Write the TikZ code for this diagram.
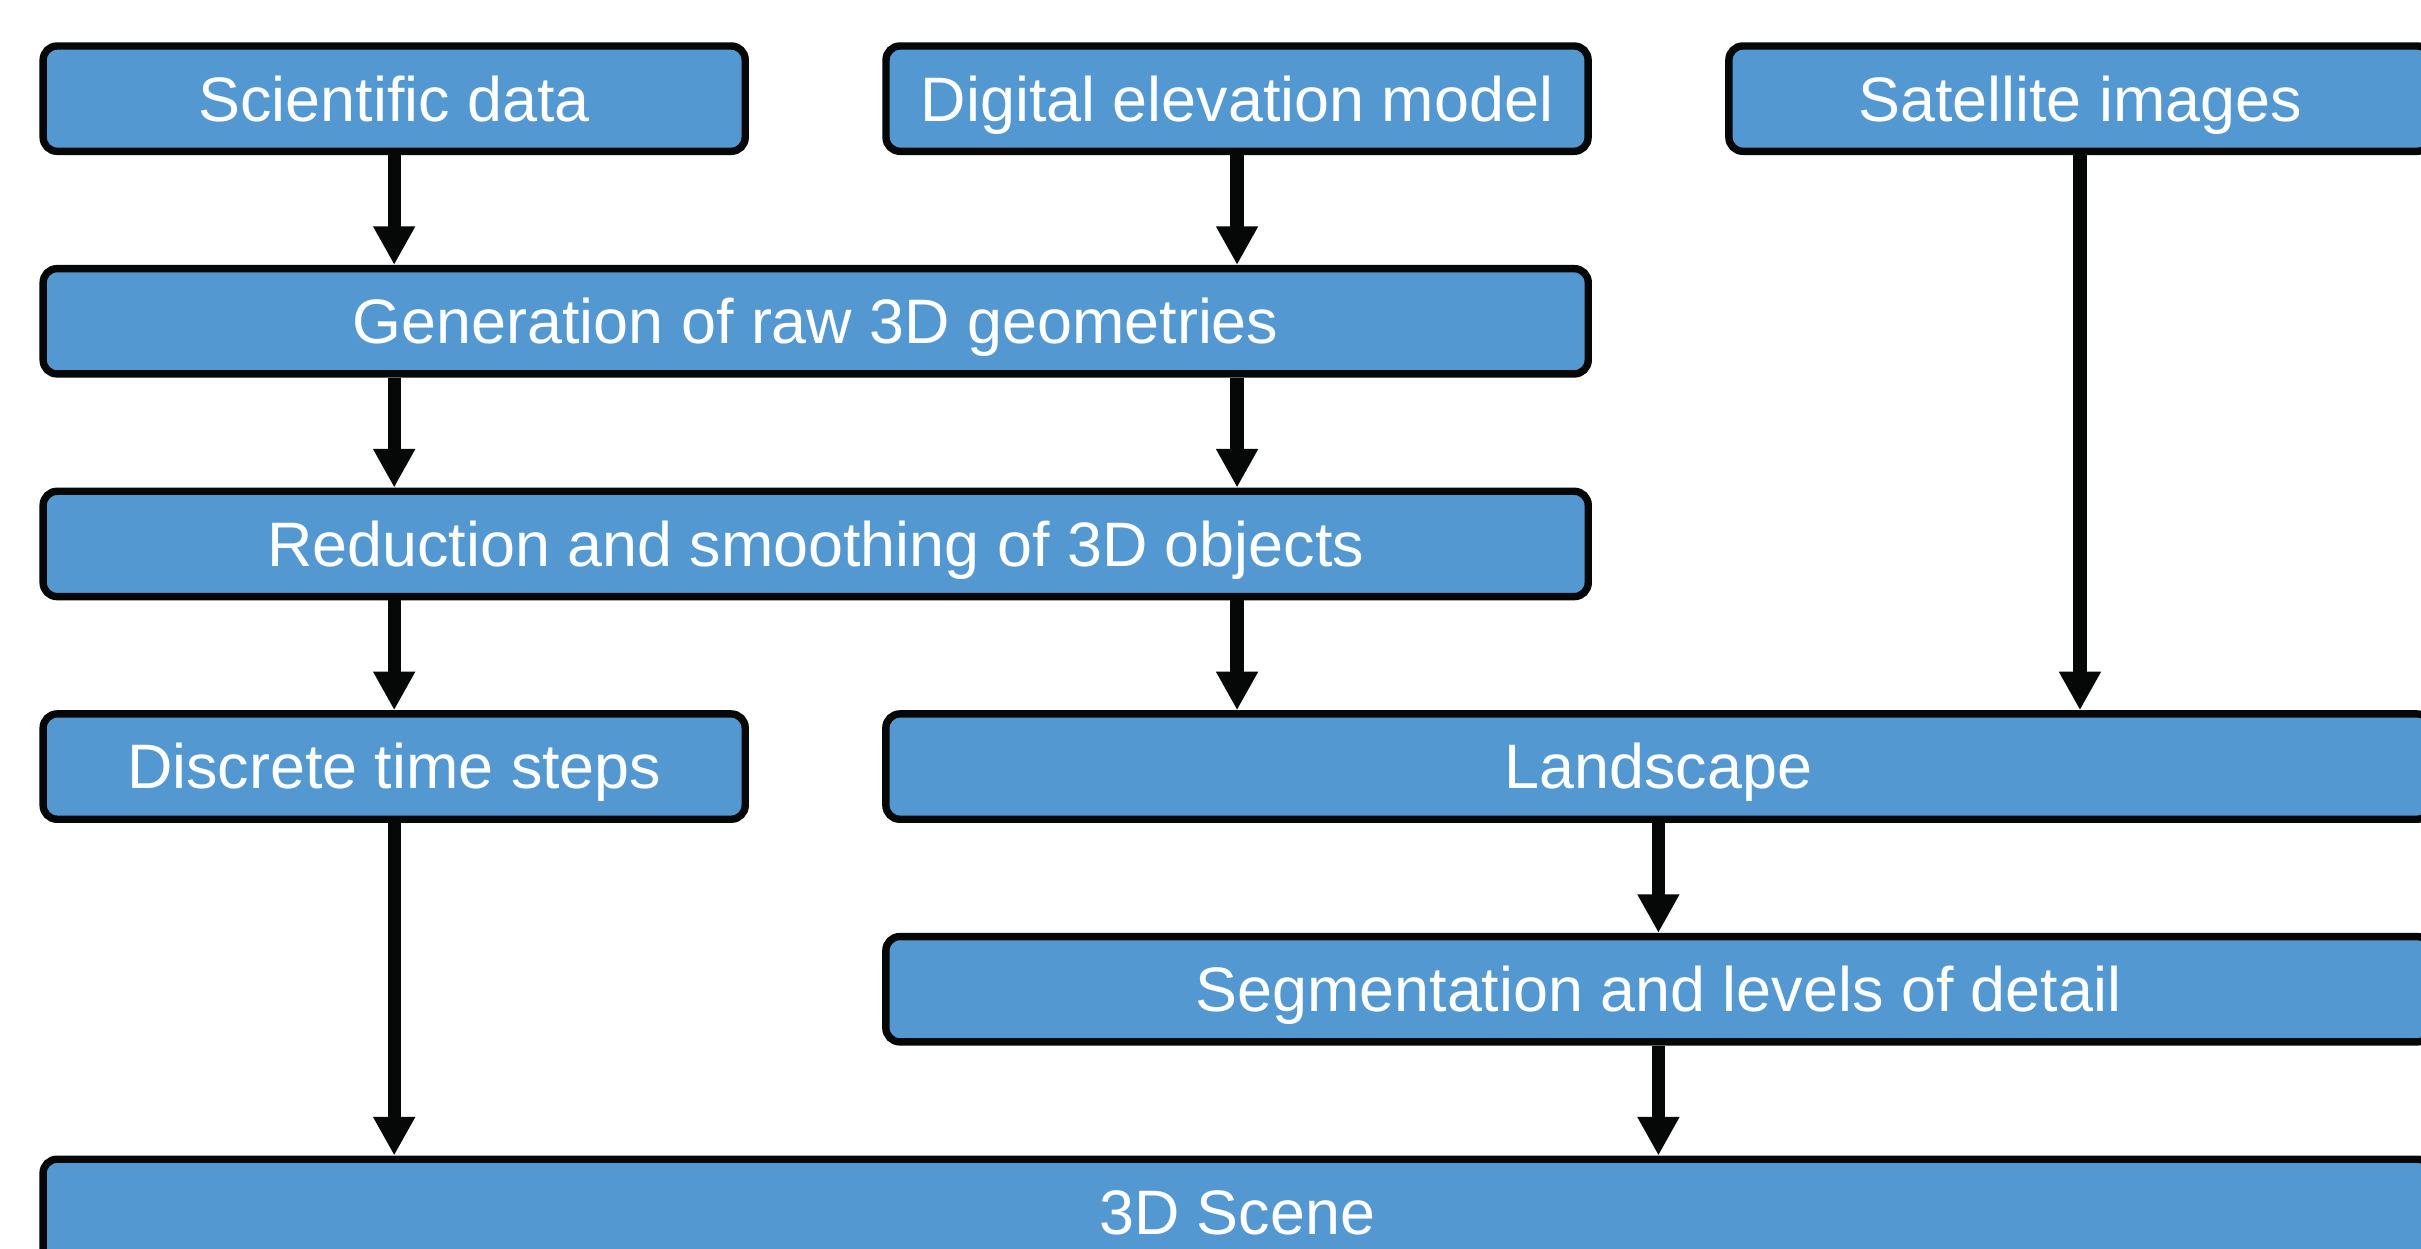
\documentclass[tikz,border=0pt]{standalone}
\usepackage{fontspec}
\setmainfont{Liberation Sans}
\usetikzlibrary{arrows.meta}
\definecolor{boxblue}{RGB}{84,152,210}
\definecolor{edge}{RGB}{5,8,7}
\begin{document}
\begin{tikzpicture}[x=1pt,y=1pt,
  box/.style={draw=edge, line width=4.8pt, fill=boxblue, rounded corners=9pt,
    minimum height=68.2pt, text=white, inner sep=0pt,
    font=\fontsize{40.7}{48}\selectfont, text height=29pt, text depth=0pt},
  small/.style={box, minimum width=454.7pt},
  wide/.style={box, minimum width=1000.7pt},
  flow/.style={draw=edge, line width=8.6pt, -{Triangle[width=25.5pt,length=25pt]}}
]
\useasboundingbox (0,0) rectangle (1568,808.3);
\clip (0,0) rectangle (1568,808.3);
\node[small] (sci) at (255.3,744.4) {Scientific data};
\node[small] (dem) at (801.2,744.4) {Digital elevation model};
\node[small] (sat) at (1347.1,744.4) {Satellite images};
\node[wide] (gen) at (528.3,600.2) {Generation of raw 3D geometries};
\node[wide] (red) at (528.3,456.0) {Reduction and smoothing of 3D objects};
\node[small] (disc) at (255.3,311.8) {Discrete time steps};
\node[wide] (land) at (1074.1,311.8) {Landscape};
\node[wide] (seg) at (1074.1,167.6) {Segmentation and levels of detail};
\node[box, minimum width=1546.6pt] (scene) at (801.2,23.4) {3D Scene};
\draw[flow] (sci.south) -- (sci.south |- gen.north);
\draw[flow] (dem.south) -- (dem.south |- gen.north);
\draw[flow] (gen.south -| sci) -- (red.north -| sci);
\draw[flow] (gen.south -| dem) -- (red.north -| dem);
\draw[flow] (red.south -| disc) -- (disc.north);
\draw[flow] (red.south -| dem) -- (land.north -| dem);
\draw[flow] (sat.south) -- (land.north -| sat);
\draw[flow] (land.south) -- (seg.north);
\draw[flow] (disc.south) -- (scene.north -| disc);
\draw[flow] (seg.south) -- (scene.north -| seg);
\end{tikzpicture}
\end{document}
